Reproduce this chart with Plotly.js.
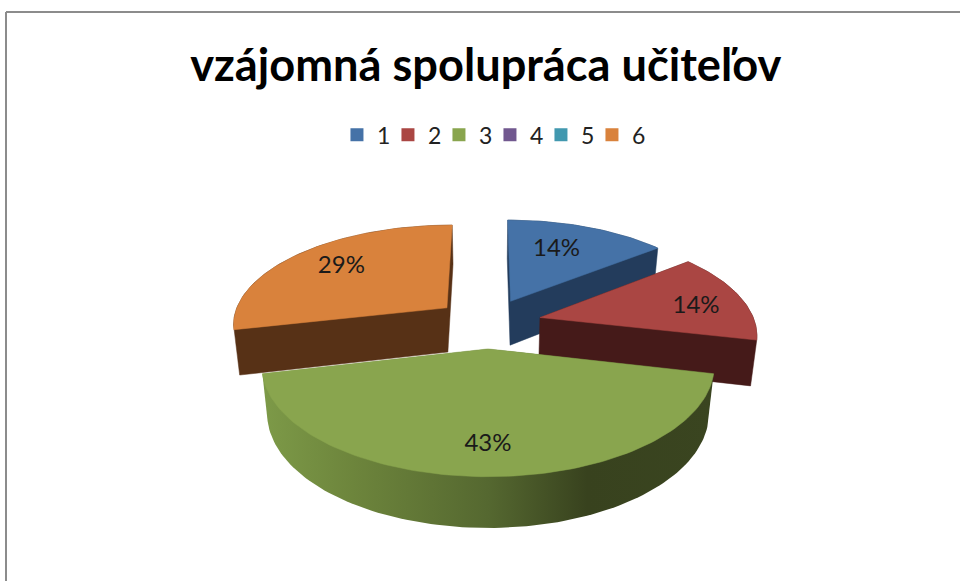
<!DOCTYPE html>
<html><head><meta charset="utf-8"><script src="https://cdn.plot.ly/plotly-3.0.1.min.js"></script>
<style>html,body{margin:0;padding:0;background:#fff}</style></head>
<body><div id="chart" style="width:960px;height:581px"></div>
<script>
const categories = ['1','2','3','4','5','6'];
const values = [1,1,3,0,0,2];
const topColors = ['#4572A7','#AA4643','#89A54E','#71588F','#4198AF','#D9823C'];
const wallColors = ['#233C5C','#451A19','#3F4C22','#382C47','#1F4C58','#573116'];
const titleText = 'vzájomná spolupráca učiteľov';

// Projection of a tilted, exploded disc into the hidden pixel-sized axes
const cam = {cx:488, cy:323, A:215, B:99.6, px:0.15, py:0.152, explode:0.25, bottomShrink:0.977};
const labelRadius = [0.7,0.7,0.8,0,0,0.7];
const labelNudgeX = [-10,15,0,0,0,0];
const labelNudgeY = [2,4,-2,0,0,-2];
const wallGradient = [[0,'#7d9a48'],[0.2,'#6d853c'],[0.5,'#556830'],[0.72,'#38421e'],[1,'#3a4520']];

function project(u,v){
  return [cam.cx + cam.A*u/(1+cam.px*v), cam.cy - cam.B*v/(1+cam.py*v)];
}
function lowered(u,v){
  const p = project(u,v);
  return [cam.cx + (p[0]-cam.cx)*cam.bottomShrink, p[1] + 45 - 5*v];
}
function hull(pts){
  const s = pts.slice().sort((a,b)=>a[0]-b[0]||a[1]-b[1]);
  const cross=(o,a,b)=>(a[0]-o[0])*(b[1]-o[1])-(a[1]-o[1])*(b[0]-o[0]);
  const lo=[],up=[];
  for(const p of s){while(lo.length>1&&cross(lo[lo.length-2],lo[lo.length-1],p)<=0)lo.pop();lo.push(p);}
  for(const p of s.slice().reverse()){while(up.length>1&&cross(up[up.length-2],up[up.length-1],p)<=0)up.pop();up.push(p);}
  lo.pop();up.pop();return lo.concat(up);
}
const total = values.reduce((a,b)=>a+b,0);
const traces = [];
const lx=[],ly=[],lt=[];
let acc = 0;
values.forEach((val,i)=>{
  if(val<=0) return;
  const a0 = acc/total*2*Math.PI, a1 = (acc+val)/total*2*Math.PI, mid=(a0+a1)/2;
  acc += val;
  const ou = cam.explode*Math.sin(mid), ov = cam.explode*Math.cos(mid);
  const world = [[ou,ov]];
  const n = Math.max(8,Math.round((a1-a0)*40));
  for(let k=0;k<=n;k++){const t=a0+(a1-a0)*k/n; world.push([ou+Math.sin(t),ov+Math.cos(t)]);}
  const top = world.map(w=>project(w[0],w[1]));
  const bottom = world.map(w=>lowered(w[0],w[1]));
  const wall = hull(top.concat(bottom));
  const wallTrace = {type:'scatter',mode:'lines',x:wall.map(p=>p[0]).concat(wall[0][0]),y:wall.map(p=>p[1]).concat(wall[0][1]),
    fill:'toself',fillcolor:wallColors[i],line:{width:0.5,color:wallColors[i]},showlegend:false,hoverinfo:'skip'};
  if(i===2){wallTrace.fillgradient={type:'horizontal',colorscale:wallGradient};wallTrace.line={width:0};}
  traces.push(wallTrace);
  traces.push({type:'scatter',mode:'lines',x:top.map(p=>p[0]).concat(top[0][0]),y:top.map(p=>p[1]).concat(top[0][1]),
    fill:'toself',fillcolor:topColors[i],line:{width:0.5,color:topColors[i]},showlegend:false,name:categories[i],hoverinfo:'skip'});
  const r = labelRadius[i];
  const lp = project(ou+r*Math.sin(mid),ov+r*Math.cos(mid));
  lx.push(lp[0]+labelNudgeX[i]); ly.push(lp[1]+labelNudgeY[i]); lt.push(Math.round(val/total*100)+'%');
});
traces.push({type:'scatter',mode:'text',x:lx,y:ly,text:lt,textposition:'middle center',
  textfont:{family:'Lato, sans-serif',size:24,color:'#1a1a1a'},showlegend:false,hoverinfo:'skip'});
categories.forEach((c,i)=>traces.push({type:'scatter',mode:'markers',x:[null],y:[null],name:c,
  marker:{symbol:'square',size:13,color:topColors[i]},showlegend:true}));

const layout = {
  width:960,height:581,margin:{l:0,r:0,t:0,b:0},paper_bgcolor:'#fff',plot_bgcolor:'#fff',
  xaxis:{range:[0,960],visible:false,fixedrange:true},
  yaxis:{range:[581,0],visible:false,fixedrange:true},
  title:{text:titleText,x:0.506,xanchor:'center',xref:'paper',y:0.888,yanchor:'middle',yref:'paper',
    font:{family:'Lato, sans-serif',size:45.2,color:'#000',weight:700}},
  legend:{orientation:'h',x:0.351,xanchor:'left',y:0.768,yanchor:'middle',entrywidth:6,entrywidthmode:'pixels',itemwidth:30,
    font:{family:'Lato, sans-serif',size:23,color:'#222'},traceorder:'normal'},
  shapes:[{type:'line',xref:'x',yref:'y',x0:6,x1:6,y0:12,y1:581,line:{color:'#8c8c8c',width:2}},
          {type:'line',xref:'x',yref:'y',x0:6,x1:960,y0:12,y1:12,line:{color:'#8c8c8c',width:2}}]
};
Plotly.newPlot('chart',traces,layout,{displayModeBar:false,staticPlot:true}).then(gd=>{
  // narrow legend entries would otherwise clip the last digit
  gd.querySelectorAll('.legend, .legend .scrollbox, .legend .groups, .legend .traces').forEach(el=>el.removeAttribute('clip-path'));
  gd.querySelectorAll('.legend .scrollbox').forEach(el=>{el.style.clipPath='none';});
});
</script></body></html>
